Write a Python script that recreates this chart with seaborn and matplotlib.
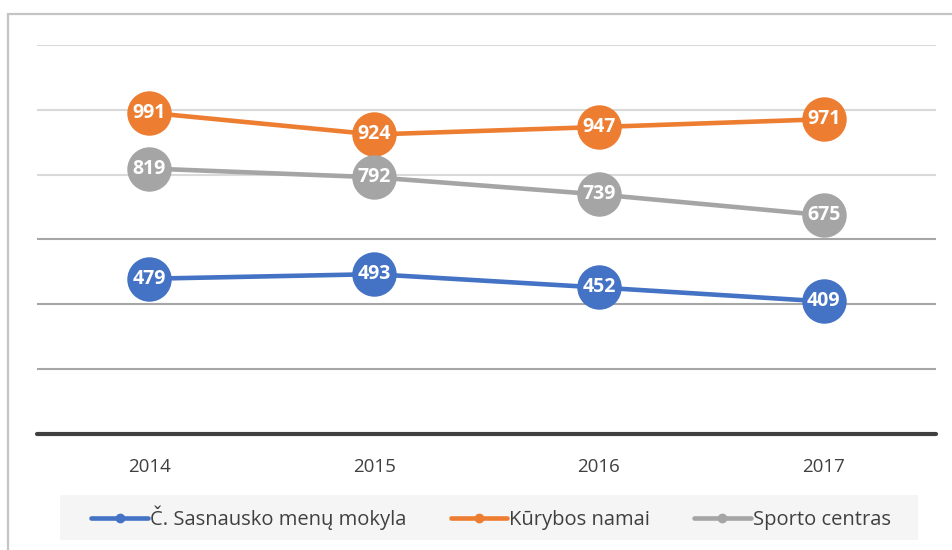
import matplotlib
matplotlib.use("Agg")
import matplotlib.pyplot as plt
import seaborn as sns
import pandas as pd
from matplotlib.lines import Line2D
from matplotlib.patches import Rectangle

# data
years = ["2014", "2015", "2016", "2017"]
series_names = ["Č. Sasnausko menų mokyla", "Kūrybos namai", "Sporto centras"]
sasnausko = [479, 493, 452, 409]
kurybos = [991, 924, 947, 971]
sporto = [819, 792, 739, 675]
colors = ["#4472C4", "#ED7D31", "#A5A5A5"]

df = pd.DataFrame({
    "year": years * 3,
    "value": sasnausko + kurybos + sporto,
    "series": [s for s in series_names for _ in years],
})
df["x"] = df["year"].map({y: i for i, y in enumerate(years)})

sns.set_theme(style="white")
plt.rcParams["font.family"] = ["Open Sans", "DejaVu Sans"]

fig = plt.figure(figsize=(9.53, 5.50), dpi=100)
ax = fig.add_axes([37 / 953, 1 - 434 / 550, 899 / 953, 389 / 550])

# outer frame and legend background
fig.patches.append(Rectangle((8 / 953, -0.05), 1.2, 1.05 - 14 / 550, transform=fig.transFigure,
                             fill=False, edgecolor="#c4c4c4", linewidth=1.6, zorder=0))
fig.patches.append(Rectangle((60 / 953, 1 - 540 / 550), 858 / 953, 45 / 550, transform=fig.transFigure,
                             facecolor="#f5f5f5", edgecolor="none", zorder=0))

# gridlines
for v in [1200, 1000, 800]:
    ax.axhline(v, color="#d9d9d9", lw=1.5, zorder=0)
for v in [600, 400, 200]:
    ax.axhline(v, color="#a6a6a6", lw=1.5, zorder=0)
ax.axhline(0, color="#404040", lw=3, zorder=1, clip_on=False)

sns.lineplot(data=df, x="x", y="value", hue="series", palette=colors, marker="o",
             markersize=32, linewidth=3.3, markeredgewidth=0, legend=False, ax=ax, zorder=3)

for vals in [sasnausko, kurybos, sporto]:
    for i, v in enumerate(vals):
        ax.text(i, v, str(v), color="white", fontsize=14, fontweight="bold",
                ha="center", va="center", zorder=5)

ax.set_xlim(-0.5, 3.5)
ax.set_ylim(0, 1200)
ax.set_xticks(range(len(years)))
ax.set_xticklabels(years, fontsize=13.5, color="#404040")
ax.tick_params(axis="x", length=0, pad=17)
ax.set_yticks([])
ax.set_xlabel("")
ax.set_ylabel("")
for s in ax.spines.values():
    s.set_visible(False)

handles = [Line2D([0], [0], color=c, lw=3.3, marker="o", markersize=6) for c in colors]
fig.legend(handles, series_names, loc="center", bbox_to_anchor=(491 / 953, 1 - 518 / 550),
           ncol=3, frameon=False, fontsize=14.5, handlelength=2.8, handletextpad=0.1,
           columnspacing=2.2, labelcolor="#404040")

fig.savefig("out.png", dpi=100)
